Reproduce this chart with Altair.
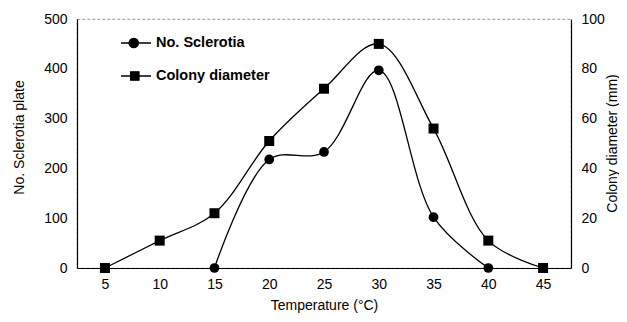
import altair as alt
import pandas as pd

# Data
scl_temp = [15, 20, 25, 30, 35, 40]
scl_vals = [0, 218, 233, 397, 102, 0]
col_temp = [5, 10, 15, 20, 25, 30, 35, 40, 45]
col_vals = [0, 11, 22, 51, 72, 90, 56, 11, 0]
x_ticks = [5, 10, 15, 20, 25, 30, 35, 40, 45]
left_ticks = [0, 100, 200, 300, 400, 500]
right_ticks = [0, 20, 40, 60, 80, 100]
series_names = ["No. Sclerotia", "Colony diameter"]

scl = pd.DataFrame({"temp": scl_temp, "value": scl_vals})
col = pd.DataFrame({"temp": col_temp, "value": col_vals})
leg = pd.DataFrame({"series": series_names})

FONT = "Liberation Sans"
x_scale = alt.Scale(domain=[2.45, 47.55], nice=False, zero=False)
x_axis = alt.Axis(values=x_ticks, title="Temperature (°C)", grid=False, ticks=False,
                  labelPadding=9, titleY=30, titleBaseline="top")

left_axis = alt.Axis(values=left_ticks, title="No. Sclerotia plate", grid=False, ticks=False,
                     labelPadding=10, titleX=-58, titleY=118, titleAngle=270,
                     titleAlign="center", titleBaseline="middle")
right_axis = alt.Axis(values=right_ticks, title="Colony diameter (mm)", orient="right", grid=False,
                      ticks=False, labelPadding=10, titleX=41, titleY=124, titleAngle=270,
                      titleAlign="center", titleBaseline="middle")

x_enc = alt.X("temp:Q", scale=x_scale, axis=x_axis)

ys = alt.Y("value:Q", scale=alt.Scale(domain=[0, 500], nice=False), axis=left_axis)
yc = alt.Y("value:Q", scale=alt.Scale(domain=[0, 100], nice=False), axis=right_axis)

line_s = alt.Chart(scl).mark_line(color="black", strokeWidth=1.3, interpolate="catmull-rom").encode(x=x_enc, y=ys)
pt_s = alt.Chart(scl).mark_point(shape="circle", filled=True, color="black", opacity=1, size=95).encode(x="temp:Q", y="value:Q")
left = alt.layer(line_s, pt_s)

line_c = alt.Chart(col).mark_line(color="black", strokeWidth=1.3, interpolate="catmull-rom").encode(x=x_enc, y=yc)
pt_c = alt.Chart(col).mark_point(shape="square", filled=True, color="black", opacity=1, size=100).encode(x="temp:Q", y="value:Q")
right = alt.layer(line_c, pt_c)

path_circle = ("M-1,0H1M0.16,0A0.31,0.31,0,1,1,-0.46,0A0.31,0.31,0,1,1,0.16,0Z")
path_square = ("M-1,0H1M-0.36,-0.28H0.20V0.28H-0.36Z")

leg_spec = dict(title=None, orient="none", legendX=43, legendY=8,
                symbolSize=900, symbolFillColor="black", symbolStrokeColor="black",
                symbolStrokeWidth=1.3, symbolOpacity=1, labelOffset=4,
                labelFont=FONT, labelFontSize=14.5, labelFontWeight="bold",
                labelColor="black", rowPadding=9, padding=0)

# legend carrier: drawn off-canvas, only its legend is seen
legend_layer = alt.Chart(leg).mark_point(filled=True, strokeWidth=1.3, opacity=1).encode(
    x=alt.value(-300), y=alt.value(-300),
    shape=alt.Shape("series:N",
                    scale=alt.Scale(domain=series_names, range=[path_circle, path_square]),
                    legend=alt.Legend(**leg_spec)),
    stroke=alt.Stroke("series:N",
                      scale=alt.Scale(domain=series_names, range=["black", "black"]),
                      legend=alt.Legend(**leg_spec)),
    fill=alt.Fill("series:N",
                  scale=alt.Scale(domain=series_names, range=["black", "black"]),
                  legend=alt.Legend(**leg_spec)),
)

chart = alt.layer(left, right, legend_layer).resolve_scale(y="independent").properties(
    width=494, height=249,
    autosize=alt.AutoSizeParams(type="none"),
    padding={"left": 69, "top": 11, "right": 48, "bottom": 46},
).configure_axis(
    labelFont=FONT, titleFont=FONT, labelFontSize=14, titleFontSize=14,
    labelColor="black", titleColor="black", titleFontWeight="normal",
    domainColor="black", domainWidth=1.2,
).configure_view(stroke="#777", strokeWidth=0.8, strokeDash=[3, 2])

chart.save("out.html", embed_options={"renderer": "svg", "actions": False})
